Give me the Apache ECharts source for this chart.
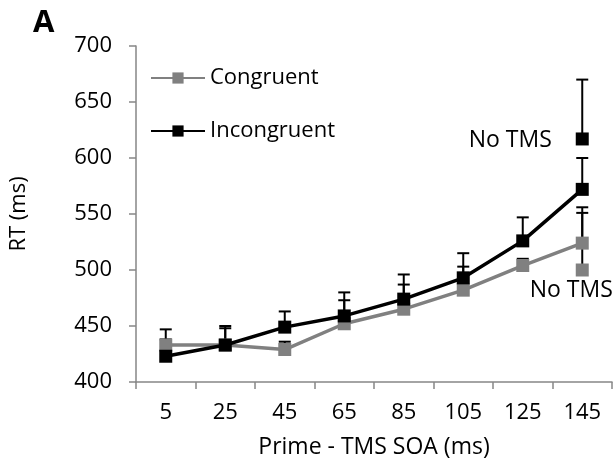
<!DOCTYPE html>
<html>
<head>
<meta charset="utf-8">
<script src="https://cdn.jsdelivr.net/npm/echarts@6/dist/echarts.min.js"></script>
<style>
  html, body { margin: 0; padding: 0; background: #fff; }
  #chart { width: 615px; height: 470px; }
</style>
</head>
<body>
<div id="chart"></div>
<script>
// data
var soaLabels = ['5', '25', '45', '65', '85', '105', '125', '145'];
var congruent = [433, 433, 429, 452, 465, 482, 504, 524];
var incongruent = [423, 433, 449, 459, 474, 493, 526, 572];
var congruentErrTop = [438, 448, 436, 473, 487, 503, 510, 551];
var incongruentErrTop = [447, 450, 463, 480, 496, 515, 547, 600];
var noTmsCongruent = 500;
var noTmsCongruentErrTop = 556;
var noTmsIncongruent = 617;
var noTmsIncongruentErrTop = 670;
var yTicks = { min: 400, max: 700, step: 50 };

var fontName = '"Open Sans", "Liberation Sans", sans-serif';
var grey = '#808080';

var chart = echarts.init(document.getElementById('chart'));

function errBars(vals, tops) {
    return vals.map(function (v, i) {
        return [i, v, tops[i]];
    });
}

var renderErr = function (params, api) {
    var base = api.coord([api.value(0), api.value(1)]);
    var top = api.coord([api.value(0), api.value(2)]);
    var st = { stroke: '#000', lineWidth: 2 };
    return {
        type: 'group',
        children: [
            { type: 'line', shape: { x1: base[0], y1: base[1], x2: top[0], y2: top[1] }, style: st },
            { type: 'line', shape: { x1: top[0] - 6, y1: top[1], x2: top[0] + 6, y2: top[1] }, style: st }
        ]
    };
};

var last = soaLabels.length - 1;

option = {
    backgroundColor: '#fff',
    animation: false,
    title: {
        text: 'A',
        left: 28,
        top: 3,
        textStyle: { fontFamily: fontName, fontWeight: 'bold', fontSize: 31, color: '#000' }
    },
    legend: {
        orient: 'vertical',
        left: 145,
        top: 62,
        itemWidth: 54,
        itemHeight: 14,
        itemGap: 31,
        data: ['Congruent', 'Incongruent'],
        textStyle: { fontFamily: fontName, fontSize: 22, color: '#000' }
    },
    grid: { left: 132, right: 3, top: 46, bottom: 88 },
    xAxis: {
        type: 'category',
        data: soaLabels,
        boundaryGap: true,
        name: 'Prime - TMS SOA (ms)',
        nameLocation: 'middle',
        nameGap: 54,
        nameTextStyle: { fontFamily: fontName, fontSize: 23, color: '#000' },
        axisLine: { lineStyle: { color: '#868686', width: 1.5 } },
        axisTick: { show: true, interval: 0, length: 7, lineStyle: { color: '#868686', width: 1.5 } },
        axisLabel: { interval: 0, margin: 20, fontFamily: fontName, fontSize: 22, color: '#000' },
        splitLine: { show: false }
    },
    yAxis: {
        type: 'value',
        min: yTicks.min,
        max: yTicks.max,
        interval: yTicks.step,
        name: 'RT (ms)',
        nameLocation: 'middle',
        nameGap: 106,
        nameTextStyle: { fontFamily: fontName, fontSize: 22, color: '#000' },
        axisLine: { show: true, lineStyle: { color: '#868686', width: 1.5 } },
        axisTick: { show: true, length: 7, lineStyle: { color: '#868686', width: 1.5 } },
        axisLabel: { margin: 24, fontFamily: fontName, fontSize: 22, color: '#000' },
        splitLine: { show: false }
    },
    series: [
        {
            type: 'custom',
            name: 'errC',
            renderItem: renderErr,
            data: errBars(congruent, congruentErrTop).concat([[last, noTmsCongruent, noTmsCongruentErrTop]]),
            z: 1,
            silent: true
        },
        {
            type: 'custom',
            name: 'errI',
            renderItem: renderErr,
            data: errBars(incongruent, incongruentErrTop).concat([[last, noTmsIncongruent, noTmsIncongruentErrTop]]),
            z: 1,
            silent: true
        },
        {
            name: 'Congruent',
            type: 'line',
            data: congruent,
            symbol: 'rect',
            symbolSize: 13,
            lineStyle: { color: grey, width: 3.5 },
            itemStyle: { color: grey },
            z: 3
        },
        {
            name: 'Incongruent',
            type: 'line',
            data: incongruent,
            symbol: 'rect',
            symbolSize: 13,
            lineStyle: { color: '#000', width: 3.5 },
            itemStyle: { color: '#000' },
            z: 4
        },
        {
            name: 'noTmsC',
            type: 'scatter',
            symbol: 'rect',
            symbolSize: 13,
            itemStyle: { color: grey, opacity: 1 },
            data: [[soaLabels[last], noTmsCongruent]],
            label: {
                show: true,
                formatter: 'No TMS',
                position: 'bottom',
                distance: 2,
                offset: [-11, 0],
                fontFamily: fontName,
                fontSize: 23,
                color: '#000'
            },
            z: 3
        },
        {
            name: 'noTmsI',
            type: 'scatter',
            symbol: 'rect',
            symbolSize: 13,
            itemStyle: { color: '#000', opacity: 1 },
            data: [[soaLabels[last], noTmsIncongruent]],
            label: {
                show: true,
                formatter: 'No TMS',
                position: 'left',
                distance: 24,
                offset: [0, 1],
                fontFamily: fontName,
                fontSize: 23,
                color: '#000'
            },
            z: 4
        }
    ]
};

chart.setOption(option);
</script>
</body>
</html>
